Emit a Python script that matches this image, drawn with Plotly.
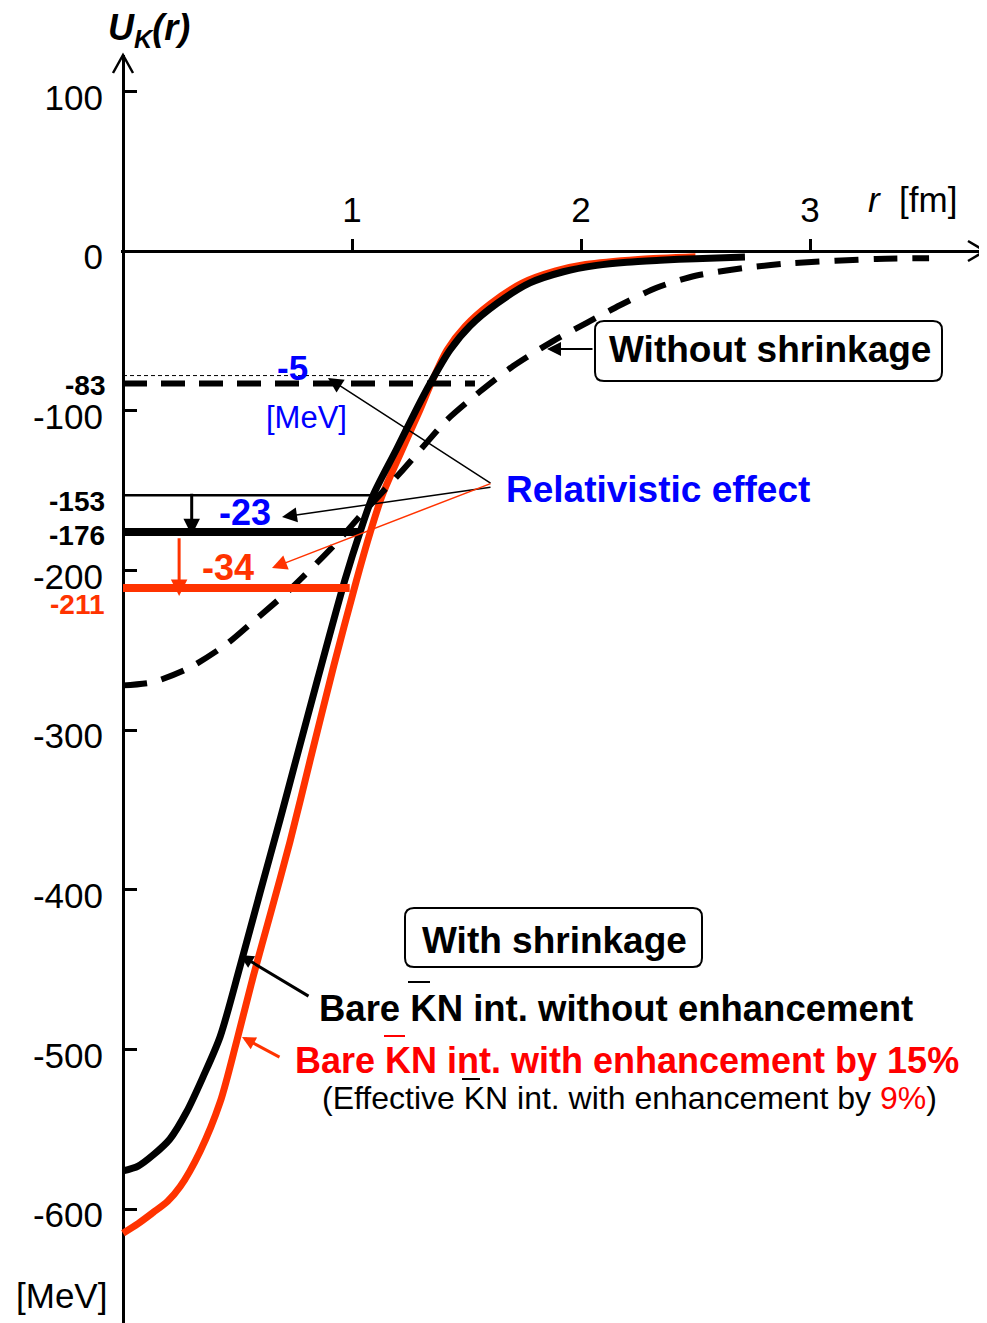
import plotly.graph_objects as go

# ---------------- data ----------------
# With shrinkage, bare KbarN int. without enhancement (black solid)
r_bare = [0.0, 0.066, 0.132, 0.205, 0.278, 0.35, 0.424, 0.511, 0.598, 0.686, 0.751, 0.85,
          0.969, 1.035, 1.092, 1.195, 1.282, 1.341, 1.428, 1.515, 1.632, 1.777,
          1.923, 2.068, 2.2, 2.345, 2.5, 2.716]
u_bare = [-576, -573, -566, -556, -539, -517, -492, -448, -402, -356, -321, -268,
          -206, -176, -153, -124, -99, -83, -62, -47, -33, -20,
          -13, -9, -7, -5.8, -4.8, -3.8]

# With shrinkage, bare KbarN int. with enhancement by 15% (red solid)
r_enh = [0.0, 0.066, 0.132, 0.195, 0.249, 0.336, 0.424, 0.496, 0.569, 0.642, 0.729, 0.817, 0.92,
         1.02, 1.08, 1.132, 1.22, 1.295, 1.345, 1.415, 1.495, 1.605, 1.745,
         1.89, 2.02, 2.25, 2.5]
u_enh = [-615, -609, -602, -595, -586, -564, -533, -495, -454, -416, -370, -319, -260,
         -206, -176, -153, -124, -100, -83, -62, -47, -33, -20,
         -12.5, -8.5, -5.3, -3.6]

# Without shrinkage (black dashed)
r_noshr = [0.0, 0.13, 0.29, 0.454, 0.585, 0.729, 0.917, 1.048, 1.21, 1.326, 1.413,
           1.559, 1.704, 1.865, 2.025, 2.17, 2.33, 2.5, 2.72, 2.93, 3.29, 3.52]
u_noshr = [-272, -270, -261, -246, -230, -212, -185, -164, -139, -120, -106,
           -88, -72, -57.5, -45, -34, -23, -15.5, -10.5, -7.5, -5, -4.5]

# Binding-energy levels [MeV] and where their bars end [fm]
level_values = [-83, -153, -176, -211]
level_r_end = [1.537, 1.09, 1.035, 0.99]
level_labels = ["-83", "-153", "-176", "-211"]
nonrel_noshr_value = -78          # non-relativistic level without shrinkage
nonrel_noshr_r_end = 1.60
rel_shift_labels = ["-5", "-23", "-34"]

y_tickvals = [100, 0, -100, -200, -300, -400, -500, -600]
y_ticktext = [str(v) for v in y_tickvals]
x_tickvals = [1, 2, 3]
x_ticktext = ["1", "2", "3"]

# ---------------- layout geometry (screen pixels) ----------------
OFF = 8                      # page body margin
W, H = 987 - OFF, 1323 - OFF
X0PX, SX = 123.0, 229.0      # screen pixel of r=0, pixels per fm
Y0PX, SY = 251.0, 1.597      # screen pixel of U=0, pixels per MeV
SL, ST, SR, SB = 121, 55, 987, 1323   # plot area on screen
ML, MT = SL - OFF, ST - OFF
PW, PH = SR - SL, SB - ST
xmin = (SL - X0PX) / SX
xmax = (SR - X0PX) / SX
ymax = (Y0PX - ST) / SY
ymin = (Y0PX - SB) / SY


def rx(px):
    return (px - X0PX) / SX


def uy(py):
    return (Y0PX - py) / SY


def xp(px):
    return (px - SL) / PW


def yp(py):
    return (SB - py) / PH


FONT = "Arial, 'Liberation Sans', sans-serif"
RED = "#FF3300"
PURE_RED = "#FF0000"
BLUE = "#0000FF"

fig = go.Figure()

# curves
fig.add_trace(go.Scatter(x=r_enh, y=u_enh, mode="lines",
                         line=dict(color=RED, width=7, shape="spline", smoothing=0.8)))
fig.add_trace(go.Scatter(x=r_bare, y=u_bare, mode="lines",
                         line=dict(color="black", width=7, shape="spline", smoothing=0.8)))
fig.add_trace(go.Scatter(x=r_noshr, y=u_noshr, mode="lines",
                         line=dict(color="black", width=6, shape="spline", smoothing=0.7,
                                   dash="24px,15px")))

# levels
level_styles = [
    dict(color="black", width=6, dash="24px,14px"),
    dict(color="black", width=2.5),
    dict(color="black", width=8),
    dict(color=RED, width=8),
]
fig.add_trace(go.Scatter(x=[0, nonrel_noshr_r_end], y=[nonrel_noshr_value] * 2, mode="lines",
                         line=dict(color="black", width=1, dash="4px,3px")))
for v, re_, st in zip(level_values, level_r_end, level_styles):
    fig.add_trace(go.Scatter(x=[0, re_], y=[v, v], mode="lines", line=st))

ann = []


def text(px, py, s, size, color="black", xanchor="center", yanchor="middle"):
    ann.append(dict(x=xp(px), y=yp(py), xref="paper", yref="paper", text=s, showarrow=False,
                    xanchor=xanchor, yanchor=yanchor, borderpad=0,
                    font=dict(family=FONT, size=size, color=color)))


def arrow(tail, tip, color="black", width=1.5, size=2.0):
    ann.append(dict(x=rx(tip[0]), y=uy(tip[1]), ax=rx(tail[0]), ay=uy(tail[1]),
                    xref="x", yref="y", axref="x", ayref="y", text="", showarrow=True,
                    arrowhead=2, arrowsize=size, arrowwidth=width, arrowcolor=color,
                    standoff=0, startstandoff=0))


# level labels
lab_py = [385, 501, 535, 604]
lab_col = ["black", "black", "black", RED]
for s, py, c in zip(level_labels, lab_py, lab_col):
    text(106, py, "<b>%s</b>" % s, 28, c, xanchor="right")

# vertical shift arrows
ann.append(dict(x=0.30, y=level_values[2] - 2, ax=0.30, ay=level_values[1] + 2,
                xref="x", yref="y", axref="x", ayref="y", text="", showarrow=True,
                arrowhead=2, arrowsize=1.1, arrowwidth=3, arrowcolor="black",
                standoff=0, startstandoff=0))
ann.append(dict(x=0.245, y=level_values[3] - 5, ax=0.245, ay=level_values[2] - 3,
                xref="x", yref="y", axref="x", ayref="y", text="", showarrow=True,
                arrowhead=2, arrowsize=1.1, arrowwidth=3, arrowcolor=RED,
                standoff=0, startstandoff=0))

# relativistic effect
text(292, 367, "<b>%s</b>" % rel_shift_labels[0], 35, BLUE)
text(306, 417, "[MeV]", 31, BLUE)
text(245, 512, "<b>%s</b>" % rel_shift_labels[1], 36, BLUE)
text(228, 567, "<b>%s</b>" % rel_shift_labels[2], 36, RED)
text(505, 489, "<b>Relativistic effect</b>", 37, BLUE, xanchor="left")
arrow((492, 484), (328, 378), "black", 1.5, 2.0)
arrow((492, 487), (282, 517), "black", 1.5, 2.0)
arrow((492, 483), (272, 568), RED, 1.5, 2.0)

# without shrinkage box
text(770, 349, "<b>Without shrinkage</b>", 37)
arrow((594, 349), (547, 349), "black", 2, 1.4)

# with shrinkage box
text(554, 940, "<b>With shrinkage</b>", 37)

# curve labels
text(318, 1008, "<b>Bare KN int. without enhancement</b>", 36.5, "black", xanchor="left")
text(294, 1060, "<b>Bare KN int. with enhancement by 15%</b>", 36, PURE_RED, xanchor="left")
text(321, 1098, "(Effective KN int. with enhancement by <span style='color:#FF0000'>9%</span>)",
     32, "black", xanchor="left")
arrow((310, 997), (240, 955), "black", 3, 0.9)
arrow((281, 1058), (242, 1037), RED, 3, 0.9)

# axis titles
text(149, 30, "<b><i>U<sub>K</sub>(r)</i></b>", 36)
text(912, 200, "<i>r</i>  [fm]", 35)
text(61, 1295, "[MeV]", 35)

# ---------------- shapes: boxes, overbars, axis arrowheads ----------------
def box_path(x0, y0, x1, y1, rad):
    X, Y = xp, yp
    return (f"M {X(x0+rad)},{Y(y0)} L {X(x1-rad)},{Y(y0)} Q {X(x1)},{Y(y0)} {X(x1)},{Y(y0+rad)} "
            f"L {X(x1)},{Y(y1-rad)} Q {X(x1)},{Y(y1)} {X(x1-rad)},{Y(y1)} "
            f"L {X(x0+rad)},{Y(y1)} Q {X(x0)},{Y(y1)} {X(x0)},{Y(y1-rad)} "
            f"L {X(x0)},{Y(y0+rad)} Q {X(x0)},{Y(y0)} {X(x0+rad)},{Y(y0)} Z")


shapes = [
    dict(type="path", xref="paper", yref="paper", path=box_path(595, 321, 942, 381, 9),
         line=dict(color="black", width=2)),
    dict(type="path", xref="paper", yref="paper", path=box_path(405, 908, 702, 967, 9),
         line=dict(color="black", width=2)),
]
for (xa, xb, yy, c) in [(408, 430, 982, "black"), (384, 405, 1036, PURE_RED),
                        (462, 480, 1079, "black")]:
    shapes.append(dict(type="line", xref="paper", yref="paper", x0=xp(xa), x1=xp(xb),
                       y0=yp(yy), y1=yp(yy), line=dict(color=c, width=2)))
# axis arrowheads (open chevrons)
shapes.append(dict(type="path", xref="paper", yref="paper",
                   path=f"M {xp(113)},{yp(73)} L {xp(123)},{yp(55)} L {xp(133)},{yp(73)}",
                   line=dict(color="black", width=2.5)))
shapes.append(dict(type="path", xref="paper", yref="paper",
                   path=f"M {xp(968)},{yp(241)} L {xp(985)},{yp(251)} L {xp(968)},{yp(261)}",
                   line=dict(color="black", width=2.5)))

xpos = (0 - ymin) / (ymax - ymin)
ypos = (0 - xmin) / (xmax - xmin)

fig.update_layout(
    width=W, height=H,
    margin=dict(l=ML, r=0, t=MT, b=0, pad=0),
    paper_bgcolor="white", plot_bgcolor="white",
    showlegend=False, hovermode=False,
    font=dict(family=FONT, color="black"),
    annotations=ann, shapes=shapes,
    xaxis=dict(range=[xmin, xmax], side="top", anchor="free", position=xpos,
               tickvals=x_tickvals, ticktext=x_ticktext, ticks="outside", ticklen=12,
               tickwidth=2.5, tickcolor="black", showline=False, showgrid=False,
               zeroline=True, zerolinecolor="black", zerolinewidth=2.5,
               tickfont=dict(size=35, family=FONT, color="black"),
               ticklabelstandoff=3, automargin=False, fixedrange=True),
    yaxis=dict(range=[ymin, ymax], side="left", anchor="free", position=ypos,
               tickvals=y_tickvals, ticktext=y_ticktext, ticks="inside", ticklen=13,
               tickwidth=2.5, tickcolor="black", showline=False, showgrid=False,
               zeroline=True, zerolinecolor="black", zerolinewidth=2.5,
               tickfont=dict(size=35, family=FONT, color="black"),
               ticklabelstandoff=20, ticklabelshift=6, automargin=False, fixedrange=True),
)

fig.write_html("out.html", config={"displayModeBar": False})
